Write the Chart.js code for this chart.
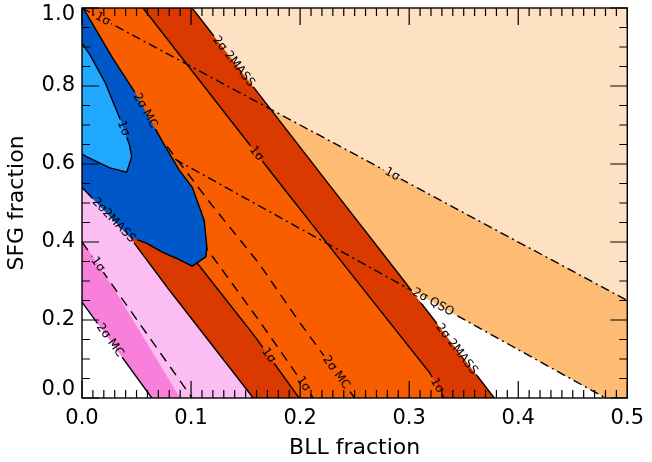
<!DOCTYPE html>
<html>
<head>
<meta charset="utf-8">
<script src="https://cdn.jsdelivr.net/npm/chart.js@4.4.0/dist/chart.umd.min.js"></script>
<style>
  body { margin: 0; background: #fff; }
</style>
</head>
<body>
<canvas id="myChart" width="652" height="462"></canvas>
<script>
// axis ticks
var xTicks = [0, 0.1, 0.2, 0.3, 0.4, 0.5];
var yTicks = [0, 0.2, 0.4, 0.6, 0.8, 1.0];
var xMinorStep = 0.01;
var yMinorStep = 0.05;

// contour lines, points are [BLL fraction, SFG fraction]
var qso1 = [[0, 1.0], [0.5, 0.25]];
var qso2 = [[0.07, 0.636], [0.48, 0]];
var mass2R = [[0.101, 1], [0.223, 0.56], [0.289, 0.323], [0.378, 0]];
var mass1R = [[0.056, 1], [0.18, 0.555], [0.2345, 0.362], [0.319, 0.064], [0.332, 0]];
var mass1L = [[0.03, 0.63], [0.107, 0.341], [0.159, 0.156], [0.199, 0]];
var mass2L = [[0, 0.54], [0.0436, 0.413], [0.08, 0.277], [0.157, 0]];
var mcBlue2 = [[0.001, 1], [0.028, 0.872], [0.05, 0.777], [0.0736, 0.658], [0.089, 0.585],
  [0.101, 0.541], [0.112, 0.456], [0.1145, 0.387], [0.1136, 0.362], [0.101, 0.338],
  [0.086, 0.359], [0.0736, 0.374], [0.059, 0.397], [0.0436, 0.413]];
var mcBlue1 = [[0, 0.91], [0.0073, 0.88], [0.021, 0.81], [0.0345, 0.718], [0.0436, 0.649],
  [0.0455, 0.618], [0.041, 0.579], [0.0255, 0.59], [0.0045, 0.618], [0, 0.626]];
var mcLow2 = [[0, 0.246], [0.064, 0]];
var mcLow1 = [[0, 0.40], [0.101, 0]];
var mcPinkEdge = [[0, 0.405], [0.03, 0.277], [0.09, 0]];
var mcD1 = [[0.11, 0.40], [0.162, 0.2], [0.212, 0]];
var mcD2 = [[0.078, 0.645], [0.119, 0.495], [0.162, 0.346], [0.198, 0.2], [0.25, 0]];

// contour labels: text, line, BLL position
var contourLabels = [
  ['1σ', qso1, 0.019],
  ['1σ', qso1, 0.2845],
  ['2σ QSO', qso2, 0.322],
  ['2σ 2MASS', mass2R, 0.139],
  ['2σ 2MASS', mass2R, 0.3435],
  ['1σ', mass1R, 0.16],
  ['1σ', mass1R, 0.3255],
  ['1σ', mass1L, 0.171],
  ['2σ2MASS', mass2L, 0.029],
  ['1σ', mcBlue1, 0.038],
  ['2σ MC', mcBlue2, 0.058],
  ['1σ', mcLow1, 0.0145],
  ['2σ MC', mcLow2, 0.0255],
  ['1σ', mcD1, 0.203],
  ['2σ MC', mcD2, 0.233]
];

function pts(arr) { return arr.map(function (p) { return {x: p[0], y: p[1]}; }); }
function rev(arr) { return arr.slice().reverse(); }

// filled regions made from the contour lines
var peachLightArea = [[0, 1], [0.5, 1], [0.5, 0]].concat(rev(qso2), [[0, 0.745]]);
var peachMidArea = qso1.concat([[0.5, 0]], rev(qso2), [[0, 0.745]]);
var pinkArea = mass2L.concat(rev(mcLow2));
var magentaArea = mcPinkEdge.concat(rev(mcLow2));
var redArea = mass2R.concat(rev(mass2L), [[0, 1]]);
var orangeArea = mass1R.concat(rev(mass1L), [[0, 0.75], [0, 1]]);
var blueArea = mcBlue2.concat([[0, 0.54], [0, 1]]);
var lightBlueArea = mcBlue1;

function fillSet(arr, color) {
  return {data: pts(arr), showLine: true, fill: 'shape', backgroundColor: color,
    borderColor: 'rgba(0,0,0,0)', borderWidth: 0, pointRadius: 0, tension: 0};
}
function lineSet(arr, dash) {
  return {data: pts(arr), showLine: true, fill: false, borderColor: '#000',
    borderWidth: 1.4, borderDash: dash, pointRadius: 0, tension: 0, contour: true};
}

var solid = [], dashed = [10, 7], dashDot = [9, 4, 2, 4];

// bottom to top
var layers = [
  fillSet(peachLightArea, '#fee0c2'),
  fillSet(peachMidArea, '#fdbb74'),
  fillSet(pinkArea, '#fcbef2'),
  fillSet(magentaArea, '#f880da'),
  fillSet(redArea, '#da3a00'),
  fillSet(orangeArea, '#f85d00'),
  lineSet(mass1L, solid),
  lineSet(mcD1, dashed),
  lineSet(mcD2, dashed),
  lineSet(qso2, dashDot),
  fillSet(blueArea, '#0058c8'),
  lineSet(mcBlue2, solid),
  fillSet(lightBlueArea, '#20a8ff'),
  lineSet(mcBlue1, solid),
  lineSet(mass1R, solid),
  lineSet(mass2R, solid),
  lineSet(mass2L, solid),
  lineSet(qso1, dashDot),
  lineSet(mcLow2, solid),
  lineSet(mcLow1, dashed)
];
layers.forEach(function (d, i) { d.order = layers.length - i; });

var labelFont = '12px "DejaVu Sans"';
var tickFont = '21px "DejaVu Sans"';

// where each label sits, in pixels
function placeLabels(chart) {
  var xs = chart.scales.x, ys = chart.scales.y, c = chart.ctx;
  c.save();
  c.font = labelFont;
  var out = contourLabels.map(function (l) {
    var line = l[1], x = l[2];
    for (var i = 0; i < line.length - 1; i++) {
      var a = line[i], b = line[i + 1];
      if (a[0] !== b[0] && (x - a[0]) * (x - b[0]) <= 0) {
        var y = a[1] + (b[1] - a[1]) * (x - a[0]) / (b[0] - a[0]);
        var ang = Math.atan2(ys.getPixelForValue(b[1]) - ys.getPixelForValue(a[1]),
          xs.getPixelForValue(b[0]) - xs.getPixelForValue(a[0]));
        if (ang > Math.PI / 2) ang -= Math.PI;
        if (ang < -Math.PI / 2) ang += Math.PI;
        return {text: l[0], x: xs.getPixelForValue(x), y: ys.getPixelForValue(y),
          ang: ang, w: c.measureText(l[0]).width};
      }
    }
    return null;
  }).filter(function (l) { return l; });
  c.restore();
  return out;
}

function boxPath(c, l) {
  var hw = l.w / 2 + 2, hh = 6, co = Math.cos(l.ang), si = Math.sin(l.ang);
  var corners = [[-hw, -hh], [hw, -hh], [hw, hh], [-hw, hh]];
  corners.forEach(function (p, i) {
    var px = l.x + p[0] * co - p[1] * si, py = l.y + p[0] * si + p[1] * co;
    if (i === 0) c.moveTo(px, py); else c.lineTo(px, py);
  });
  c.closePath();
}

var framePlugin = {
  id: 'frame',
  beforeDatasetDraw: function (chart, args) {
    if (!chart.data.datasets[args.index].contour) return;
    var c = chart.ctx;
    c.save();
    c.beginPath();
    c.rect(0, 0, chart.width, chart.height);
    placeLabels(chart).forEach(function (l) { boxPath(c, l); });
    c.clip('evenodd');
  },
  afterDatasetDraw: function (chart, args) {
    if (chart.data.datasets[args.index].contour) chart.ctx.restore();
  },
  afterDraw: function (chart) {
    var c = chart.ctx, a = chart.chartArea, xs = chart.scales.x, ys = chart.scales.y;
    c.save();
    c.setLineDash([]);
    c.globalAlpha = 1;
    // contour labels
    c.font = labelFont;
    c.fillStyle = '#000';
    c.textAlign = 'center';
    c.textBaseline = 'middle';
    placeLabels(chart).forEach(function (l) {
      c.save();
      c.translate(l.x, l.y);
      c.rotate(l.ang);
      c.fillText(l.text, 0, 0);
      c.restore();
    });
    // y tick labels, the end ones pulled inside like the original
    c.font = tickFont;
    c.textAlign = 'right';
    yTicks.forEach(function (v, i) {
      var nudge = i === 0 ? -8 : (i === yTicks.length - 1 ? 7 : 0);
      c.fillText(v.toFixed(1), a.left - 7, ys.getPixelForValue(v) + nudge);
    });
    // box and inward ticks
    c.strokeStyle = '#000';
    c.lineWidth = 1.2;
    var i, v, p, len;
    var nx = Math.round(0.5 / xMinorStep);
    for (i = 0; i <= nx; i++) {
      v = i * xMinorStep;
      len = i % 10 === 0 ? 17 : 8;
      p = xs.getPixelForValue(v);
      c.beginPath();
      c.moveTo(p, a.bottom); c.lineTo(p, a.bottom - len);
      c.moveTo(p, a.top); c.lineTo(p, a.top + len);
      c.stroke();
    }
    var ny = Math.round(1 / yMinorStep);
    for (i = 0; i <= ny; i++) {
      v = i * yMinorStep;
      len = i % 4 === 0 ? 17 : 8;
      p = ys.getPixelForValue(v);
      c.beginPath();
      c.moveTo(a.left, p); c.lineTo(a.left + len, p);
      c.moveTo(a.right, p); c.lineTo(a.right - len, p);
      c.stroke();
    }
    c.lineWidth = 1.4;
    c.strokeRect(a.left, a.top, a.right - a.left, a.bottom - a.top);
    c.restore();
  }
};

var ctx = document.getElementById('myChart').getContext('2d');
var chart = new Chart(ctx, {
  type: 'scatter',
  data: { datasets: layers },
  options: {
    responsive: false,
    animation: false,
    devicePixelRatio: 1,
    events: [],
    layout: { padding: { top: 8, right: 20, left: 0, bottom: 0 } },
    plugins: { legend: { display: false }, tooltip: { enabled: false } },
    scales: {
      x: {
        type: 'linear', min: 0, max: 0.5,
        afterBuildTicks: function (s) { s.ticks = xTicks.map(function (v) { return {value: v}; }); },
        afterFit: function (s) { s.height = 64; },
        grid: { display: false, drawTicks: false },
        border: { display: false },
        ticks: {
          color: '#000', padding: 8, maxRotation: 0, autoSkip: false,
          font: { family: 'DejaVu Sans', size: 21 },
          callback: function (v) { return v.toFixed(1); }
        },
        title: {
          display: true, text: 'BLL fraction', color: '#000',
          font: { family: 'DejaVu Sans', size: 22 }, padding: { top: 0, bottom: 1 }
        }
      },
      y: {
        type: 'linear', min: 0, max: 1,
        afterBuildTicks: function (s) { s.ticks = yTicks.map(function (v) { return {value: v}; }); },
        afterFit: function (s) { s.width = 82; },
        grid: { display: false, drawTicks: false },
        border: { display: false },
        ticks: {
          display: false, autoSkip: false,
          font: { family: 'DejaVu Sans', size: 21, lineHeight: 0.7 }
        },
        title: {
          display: true, text: 'SFG fraction', color: '#000',
          font: { family: 'DejaVu Sans', size: 22 }, padding: { top: 4, bottom: 0 }
        }
      }
    }
  },
  plugins: [framePlugin]
});
</script>
</body>
</html>
